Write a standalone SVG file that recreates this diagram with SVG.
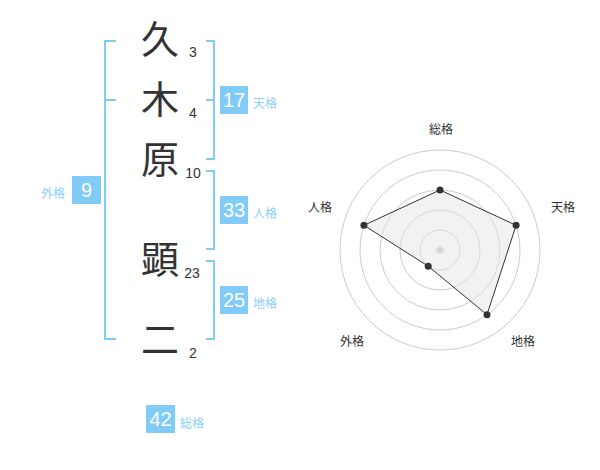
<svg xmlns="http://www.w3.org/2000/svg" width="600" height="470" viewBox="0 0 600 470">
<style>
.ch{font-family:"Noto Sans CJK JP","Noto Sans CJK SC",sans-serif;font-size:38px;fill:#333;text-anchor:middle}
.st{font-family:"Liberation Sans",Arial,sans-serif;font-size:14px;fill:#333;text-anchor:middle}
.br{fill:none;stroke:#80cbf8;stroke-width:2}
.box{fill:#80cbf8}
.bn{font-family:"Liberation Sans",Arial,sans-serif;font-size:20px;fill:#fff;text-anchor:middle}
.bl{font-family:"Noto Sans CJK JP","Noto Sans CJK SC",sans-serif;font-size:12px;fill:#8ccff5}
.rl{font-family:"Noto Sans CJK JP","Noto Sans CJK SC",sans-serif;font-size:12px;fill:#333;text-anchor:middle}
.ring{fill:none;stroke:#ccc;stroke-width:1}
.dot{fill:#333}
</style>
<rect width="600" height="470" fill="#fff"/>
<g id="chars">
<text class="ch" x="160" y="53">久</text>
<text class="ch" x="160" y="113">木</text>
<text class="ch" x="160" y="173">原</text>
<text class="ch" x="160" y="273">顕</text>
<text class="ch" x="160" y="353">二</text>
</g>
<g id="strokes">
<text class="st" x="193" y="57">3</text>
<text class="st" x="193" y="118">4</text>
<text class="st" x="193" y="178">10</text>
<text class="st" x="192" y="278">23</text>
<text class="st" x="193" y="358">2</text>
</g>
<g id="connectors">
<path class="br" d="M116,41 H105 V339 H116 M105,100 H116"/>
<path class="br" d="M206,41 H214 V159 H206 M206,100 H214"/>
<path class="br" d="M206,171 H214 V249 H206"/>
<path class="br" d="M206,261 H214 V339 H206"/>
</g>
<g id="tenkaku">
<rect class="box" x="220" y="86" width="28" height="28"/>
<text class="bn" x="234" y="107">17</text>
<text class="bl" x="253" y="108">天格</text>
</g>
<g id="jinkaku">
<rect class="box" x="220" y="196" width="28" height="28"/>
<text class="bn" x="234" y="217">33</text>
<text class="bl" x="253" y="218">人格</text>
</g>
<g id="chikaku">
<rect class="box" x="220" y="286" width="28" height="28"/>
<text class="bn" x="234" y="307">25</text>
<text class="bl" x="253" y="308">地格</text>
</g>
<g id="gaikaku">
<rect class="box" x="72" y="176" width="29" height="28"/>
<text class="bn" x="86.5" y="197">9</text>
<text class="bl" x="41" y="198">外格</text>
</g>
<g id="soukaku">
<rect class="box" x="146" y="405" width="29" height="28"/>
<text class="bn" x="160.5" y="426">42</text>
<text class="bl" x="180" y="428">総格</text>
</g>
<g id="radar">
<circle class="ring" cx="440" cy="250" r="100"/>
<circle class="ring" cx="440" cy="250" r="80"/>
<circle class="ring" cx="440" cy="250" r="60"/>
<circle class="ring" cx="440" cy="250" r="40"/>
<circle class="ring" cx="440" cy="250" r="20"/>
<circle cx="440" cy="250" r="3.5" fill="#ccc"/>
<polygon points="440,190 516.1,225.3 487,314.7 428.2,266.2 363.9,225.3" fill="#e6e6e6" fill-opacity="0.5" stroke="#333" stroke-width="1"/>
<circle class="dot" cx="440" cy="190" r="3.5"/>
<circle class="dot" cx="516.1" cy="225.3" r="3.5"/>
<circle class="dot" cx="487" cy="314.7" r="3.5"/>
<circle class="dot" cx="428.2" cy="266.2" r="3.5"/>
<circle class="dot" cx="363.9" cy="225.3" r="3.5"/>
<text class="rl" x="441" y="134">総格</text>
<text class="rl" x="563" y="212">天格</text>
<text class="rl" x="523" y="346">地格</text>
<text class="rl" x="352" y="346">外格</text>
<text class="rl" x="320" y="212">人格</text>
</g>
</svg>
